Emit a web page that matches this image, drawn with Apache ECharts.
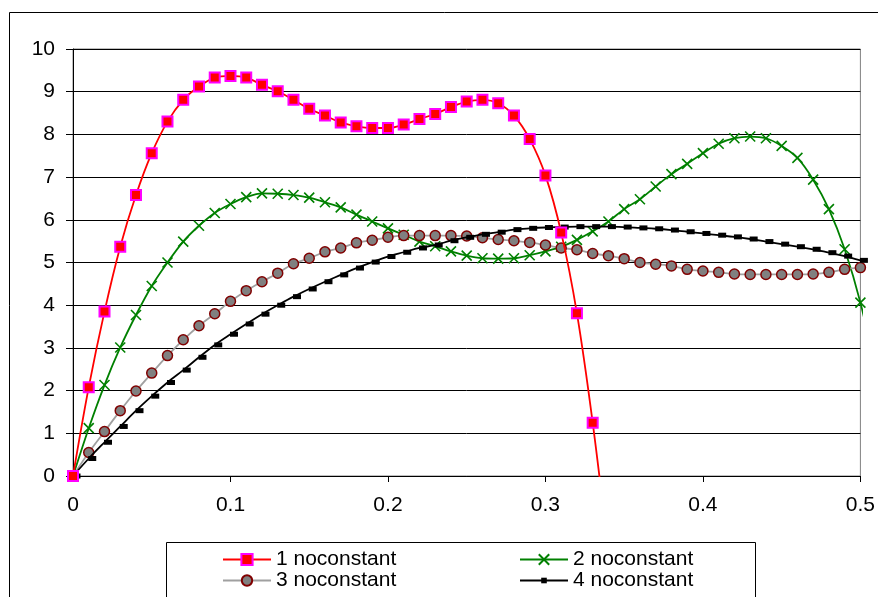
<!DOCTYPE html>
<html>
<head>
<meta charset="utf-8">
<script src="https://cdn.jsdelivr.net/npm/echarts@6/dist/echarts.min.js"></script>
<style>
  html, body { margin: 0; padding: 0; background: #fff; }
  #chart { width: 878px; height: 597px; }
</style>
</head>
<body>
<div id="chart"></div>
<script>
// Sample positions along the horizontal axis
const xValues = [0, 0.01, 0.02, 0.03, 0.04, 0.05, 0.06, 0.07, 0.08, 0.09,
  0.1, 0.11, 0.12, 0.13, 0.14, 0.15, 0.16, 0.17, 0.18, 0.19,
  0.2, 0.21, 0.22, 0.23, 0.24, 0.25, 0.26, 0.27, 0.28, 0.29,
  0.3, 0.31, 0.32, 0.33, 0.34, 0.35, 0.36, 0.37, 0.38, 0.39,
  0.4, 0.41, 0.42, 0.43, 0.44, 0.45, 0.46, 0.47, 0.48, 0.49,
  0.5, 0.51];

const seriesNames = ['1 noconstant', '2 noconstant', '3 noconstant', '4 noconstant'];

const values1 = [0, 2.08, 3.85, 5.37, 6.58, 7.56, 8.30, 8.81, 9.12, 9.33,
  9.37, 9.33, 9.16, 9.01, 8.81, 8.60, 8.44, 8.28, 8.19, 8.15,
  8.15, 8.23, 8.36, 8.48, 8.64, 8.77, 8.81, 8.73, 8.44, 7.89,
  7.04, 5.70, 3.81, 1.25, -1.8];

const values2 = [0, 1.12, 2.13, 3.01, 3.77, 4.45, 5.00, 5.49, 5.86, 6.16,
  6.37, 6.53, 6.62, 6.61, 6.58, 6.52, 6.41, 6.29, 6.12, 5.96,
  5.80, 5.65, 5.49, 5.38, 5.26, 5.16, 5.10, 5.09, 5.10, 5.17,
  5.26, 5.37, 5.53, 5.73, 5.96, 6.25, 6.48, 6.78, 7.07, 7.31,
  7.56, 7.78, 7.91, 7.95, 7.91, 7.73, 7.45, 6.94, 6.25, 5.31,
  4.06, 2.4];

const values3 = [0, 0.55, 1.04, 1.53, 1.99, 2.41, 2.82, 3.19, 3.52, 3.80,
  4.09, 4.34, 4.55, 4.75, 4.97, 5.10, 5.25, 5.34, 5.46, 5.52,
  5.59, 5.63, 5.63, 5.63, 5.63, 5.62, 5.58, 5.54, 5.51, 5.47,
  5.41, 5.34, 5.30, 5.21, 5.16, 5.09, 5.00, 4.96, 4.92, 4.84,
  4.80, 4.77, 4.73, 4.72, 4.72, 4.72, 4.72, 4.73, 4.77, 4.84,
  4.88];

const values4 = [0, 0.41, 0.79, 1.16, 1.53, 1.87, 2.19, 2.48, 2.78, 3.07,
  3.32, 3.56, 3.79, 4.00, 4.20, 4.38, 4.55, 4.71, 4.87, 5.01,
  5.14, 5.24, 5.34, 5.41, 5.51, 5.59, 5.66, 5.71, 5.77, 5.80,
  5.82, 5.83, 5.84, 5.84, 5.84, 5.83, 5.81, 5.79, 5.76, 5.72,
  5.68, 5.64, 5.60, 5.55, 5.49, 5.43, 5.37, 5.31, 5.23, 5.15,
  5.05];

const yTicks = { min: 0, max: 10, step: 1 };
const xTicks = { min: 0, max: 0.5, step: 0.1 };

function pairs(vals) {
  return vals.map((v, i) => [xValues[i], v]);
}

const FONT = '"Liberation Sans", Arial, sans-serif';
const crossPath = 'path://M0,0L10,10M10,0L0,10';

const chart = echarts.init(document.getElementById('chart'), null, { renderer: 'canvas' });

// one legend block per entry so each icon can have its own marker size
function legendEntry(name, left, rowCenter, iconHeight) {
  return {
    orient: 'vertical', padding: 0,
    left: left, top: rowCenter - 10,
    itemWidth: 48, itemHeight: iconHeight, itemGap: 0,
    textStyle: { fontSize: 21, fontFamily: FONT, color: '#000', lineHeight: 20 },
    data: [name]
  };
}

chart.setOption({
  animation: false,
  backgroundColor: '#ffffff',
  textStyle: { fontFamily: FONT },
  grid: {
    left: 73, right: 15, top: 49, bottom: 121,
    show: true, borderColor: '#808080', borderWidth: 1, backgroundColor: 'transparent'
  },
  graphic: [
    // outer chart frame
    { type: 'rect', silent: true, shape: { x: 9.5, y: 12.5, width: 1000, height: 800 },
      style: { fill: 'none', stroke: '#000', lineWidth: 1 }, z: -1 },
    // legend frame
    { type: 'rect', silent: true, shape: { x: 166.5, y: 542.5, width: 589, height: 100 },
      style: { fill: '#fff', stroke: '#000', lineWidth: 1 }, z: -1 }
  ],
  xAxis: {
    type: 'value',
    min: xTicks.min, max: xTicks.max, interval: xTicks.step,
    axisLine: { show: true, onZero: false, lineStyle: { color: '#000', width: 1 } },
    axisTick: { show: true, inside: false, length: 6, lineStyle: { color: '#000' } },
    axisLabel: { color: '#000', fontSize: 21, fontFamily: FONT, margin: 19 },
    splitLine: { show: false }
  },
  yAxis: {
    type: 'value',
    min: yTicks.min, max: yTicks.max, interval: yTicks.step,
    axisLine: { show: true, lineStyle: { color: '#000', width: 1 } },
    axisTick: { show: true, inside: false, length: 7, lineStyle: { color: '#000' } },
    axisLabel: { color: '#000', fontSize: 21, fontFamily: FONT, margin: 18 },
    splitLine: { show: true, lineStyle: { color: '#000', width: 1 } }
  },
  legend: [
    legendEntry(seriesNames[0], 222, 559, 14),
    legendEntry(seriesNames[2], 222, 580, 13),
    legendEntry(seriesNames[1], 519, 559, 13),
    legendEntry(seriesNames[3], 519, 580, 7)
  ],
  series: [
    {
      name: seriesNames[0], type: 'line', smooth: 0.35, z: 6,
      data: pairs(values1),
      symbol: 'rect', symbolSize: 10,
      lineStyle: { color: '#ff0000', width: 1.8 },
      itemStyle: { color: '#ff0000', borderColor: '#ff00ff', borderWidth: 2 }
    },
    {
      name: seriesNames[1], type: 'line', smooth: 0.35, z: 3,
      data: pairs(values2),
      symbol: crossPath, symbolSize: 10,
      lineStyle: { color: '#008000', width: 1.8 },
      itemStyle: { color: 'transparent', borderColor: '#008000', borderWidth: 1.6 }
    },
    {
      name: seriesNames[2], type: 'line', smooth: 0.35, z: 4,
      data: pairs(values3),
      symbol: 'circle', symbolSize: 10,
      lineStyle: { color: '#a0a0a0', width: 1.8 },
      itemStyle: { color: '#808080', borderColor: '#800000', borderWidth: 1.5 }
    },
    {
      name: seriesNames[3], type: 'line', smooth: 0.35, z: 5,
      data: pairs(values4),
      symbol: 'rect', symbolSize: [8, 5], symbolOffset: [3.5, 0],
      lineStyle: { color: '#000', width: 1.8 },
      itemStyle: { color: '#000' }
    }
  ]
});
</script>
</body>
</html>
